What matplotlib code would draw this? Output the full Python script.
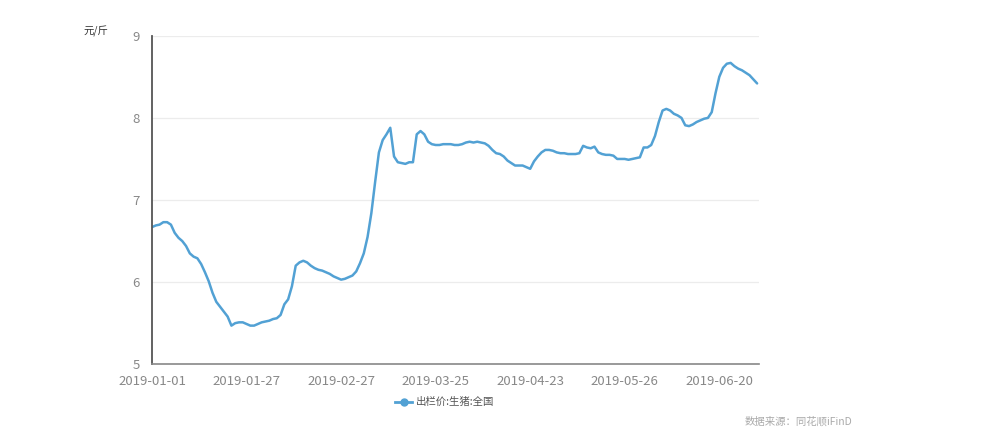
import matplotlib
matplotlib.use('Agg')
import numpy as np
from matplotlib import pyplot as plt
from matplotlib.lines import Line2D

plt.rcParams['font.family'] = ['Noto Sans CJK SC', 'DejaVu Sans']

# 出栏价:生猪:全国 (元/斤), one value per trading day
price = [6.67, 6.69, 6.70, 6.73, 6.73, 6.70, 6.60, 6.54, 6.50, 6.44,
         6.35, 6.31, 6.29, 6.22, 6.12, 6.01, 5.87, 5.76, 5.70, 5.64,
         5.58, 5.47, 5.50, 5.51, 5.51, 5.49, 5.47, 5.47, 5.49, 5.51,
         5.52, 5.53, 5.55, 5.56, 5.60, 5.73, 5.79, 5.95, 6.20, 6.24,
         6.26, 6.24, 6.20, 6.17, 6.15, 6.14, 6.12, 6.10, 6.07, 6.05,
         6.03, 6.04, 6.06, 6.08, 6.13, 6.23, 6.35, 6.55, 6.84, 7.22,
         7.58, 7.73, 7.80, 7.88, 7.53, 7.46, 7.45, 7.44, 7.46, 7.46,
         7.80, 7.84, 7.80, 7.71, 7.68, 7.67, 7.67, 7.68, 7.68, 7.68,
         7.67, 7.67, 7.68, 7.70, 7.71, 7.70, 7.71, 7.70, 7.69, 7.66,
         7.61, 7.57, 7.56, 7.53, 7.48, 7.45, 7.42, 7.42, 7.42, 7.40,
         7.38, 7.47, 7.53, 7.58, 7.61, 7.61, 7.60, 7.58, 7.57, 7.57,
         7.56, 7.56, 7.56, 7.57, 7.66, 7.64, 7.63, 7.65, 7.58, 7.56,
         7.55, 7.55, 7.54, 7.50, 7.50, 7.50, 7.49, 7.50, 7.51, 7.52,
         7.64, 7.64, 7.67, 7.78, 7.95, 8.09, 8.11, 8.09, 8.05, 8.03,
         8.00, 7.91, 7.90, 7.92, 7.95, 7.97, 7.99, 8.00, 8.07, 8.30,
         8.50, 8.61, 8.66, 8.67, 8.63, 8.60, 8.58, 8.55, 8.52, 8.47,
         8.42]

tick_pos = [0, 25, 50, 75, 100, 125, 150]
tick_labels = ['2019-01-01', '2019-01-27', '2019-02-27', '2019-03-25',
               '2019-04-23', '2019-05-26', '2019-06-20']
y_ticks = [5, 6, 7, 8, 9]

line_color = '#52a1d4'

fig = plt.figure(figsize=(10, 4.42), dpi=100)
ax = fig.add_axes([0.152, 0.176, 0.607, 0.743])

x = np.arange(len(price))
ax.plot(x, price, color=line_color, lw=1.8, solid_capstyle='round')

ax.set_xlim(0, len(price) - 0.5)
ax.set_ylim(5, 9)
ax.set_xticks(tick_pos)
ax.set_xticklabels(tick_labels)
ax.set_yticks(y_ticks)
ax.tick_params(length=0, labelsize=9.5, colors='#888888', pad=8)
ax.tick_params(axis='y', pad=9)

ax.grid(axis='y', color='#ececec', lw=0.9)
ax.set_axisbelow(True)
for s in ['top', 'right']:
    ax.spines[s].set_visible(False)
ax.spines['left'].set_color('#555555')
ax.spines['left'].set_linewidth(1.3)
ax.spines['bottom'].set_color('#888888')
ax.spines['bottom'].set_linewidth(1.2)

fig.text(0.083, 0.928, '元/斤', fontsize=7.5, color='#333333', va='center')

handle = Line2D([], [], color=line_color, lw=2, marker='o', markersize=5)
fig.legend([handle], ['出栏价:生猪:全国'], loc='center', bbox_to_anchor=(0.445, 0.09),
           frameon=False, fontsize=7.5, labelcolor='#555555', handlelength=1.6,
           handletextpad=0.4)

fig.text(0.745, 0.047, '数据来源：同花顺iFinD', fontsize=7.5, color='#aaaaaa', va='center')

fig.savefig('out.png', dpi=100, facecolor='white')
